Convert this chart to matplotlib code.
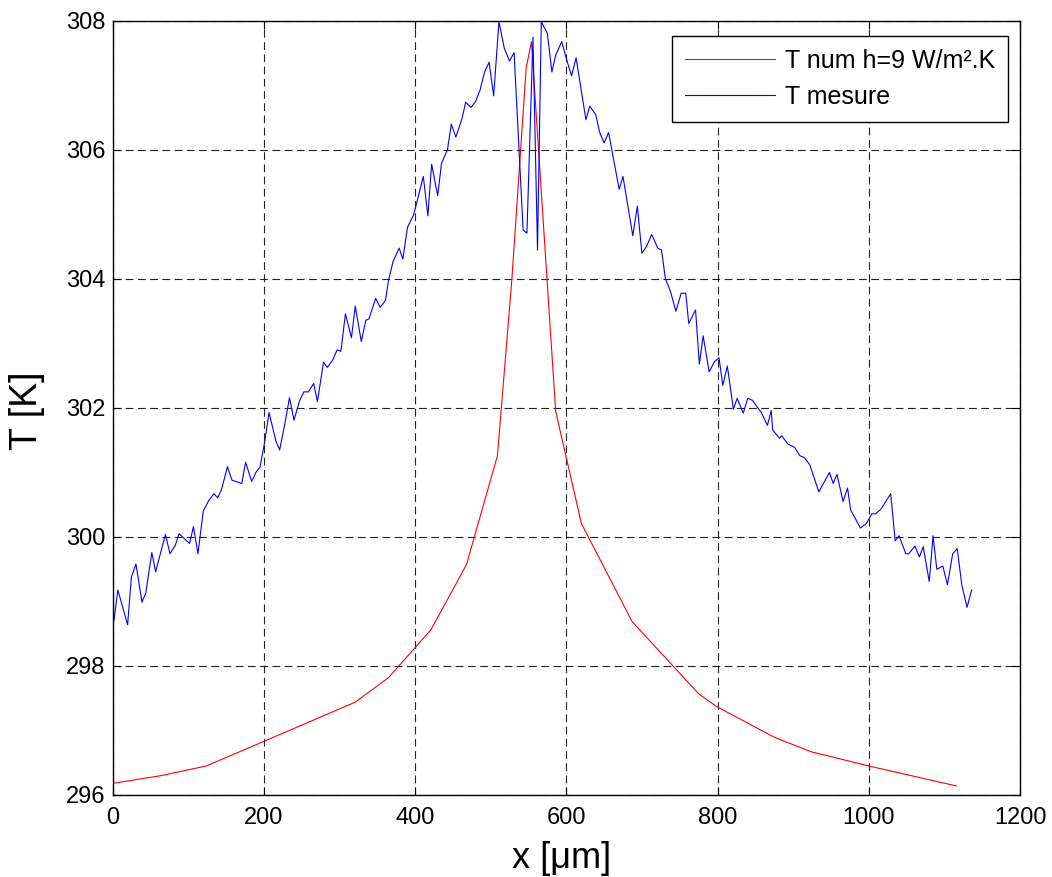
import matplotlib
matplotlib.use("Agg")
import matplotlib.pyplot as plt

plt.rcParams['font.family'] = ['Liberation Sans', 'DejaVu Sans']

# Numerical temperature (red)
x_num = [0, 64, 124, 200, 321, 365, 421, 468, 509, 528, 547, 554, 586, 620, 687,
         775, 799, 876, 924, 1000, 1116]
T_num = [296.18, 296.30, 296.45, 296.83, 297.44, 297.82, 298.56, 299.57, 301.26,
         303.98, 307.27, 307.68, 301.95, 300.21, 298.69, 297.57, 297.37, 296.89,
         296.67, 296.45, 296.14]

# Measured temperature (blue)
x_mes = [2, 7, 20, 25, 31, 39, 44, 52, 57, 70, 76, 83, 88, 102, 107, 113, 120, 127,
         134, 139, 144, 152, 158, 171, 176, 184, 190, 195, 201, 207, 216, 221, 228,
         234, 240, 247, 253, 259, 266, 271, 279, 284, 291, 297, 302, 308, 316, 321,
         329, 335, 339, 348, 354, 361,
         365, 371, 379, 384, 390, 398, 402, 411, 417, 422, 430, 435, 443, 448, 454,
         462, 467, 474, 480, 486, 492, 498, 504, 511, 518, 525, 531, 543, 548, 556,
         562, 567, 575, 581, 586, 594, 600, 607, 613, 618, 626, 631, 639,
         644, 650, 656, 670, 675, 688, 694, 700, 706, 713, 721, 726, 731, 738, 745,
         752, 758, 762, 771, 776, 781, 789, 796, 802, 807, 813, 821, 826, 834, 840,
         846, 858, 866, 871, 873,
         882, 885, 893, 902, 909, 915, 922, 934, 948, 953, 958, 966, 972, 976, 989,
         997, 1004, 1009, 1016, 1029, 1035, 1040, 1049, 1053, 1061, 1067, 1072, 1080,
         1085, 1090, 1098, 1104, 1111, 1117, 1123, 1130, 1136]
T_mes = [298.71, 299.18, 298.64, 299.38, 299.58, 298.99, 299.13, 299.76, 299.46,
         300.04, 299.74, 299.87, 300.05, 299.90, 300.16, 299.74, 300.40, 300.56,
         300.67, 300.61, 300.73, 301.09, 300.88, 300.83, 301.16, 300.86, 301.01,
         301.08, 301.46, 301.93, 301.49, 301.35, 301.76, 302.16, 301.81, 302.10,
         302.25, 302.25, 302.38, 302.10, 302.71, 302.63, 302.74, 302.90, 302.88,
         303.46, 303.09, 303.58, 303.03, 303.36, 303.38, 303.70, 303.56, 303.67,
         303.98, 304.27, 304.48, 304.31, 304.80, 304.99, 305.17, 305.59, 304.98,
         305.78, 305.29, 305.79, 306.01, 306.40, 306.20, 306.48, 306.74, 306.66,
         306.75, 306.93, 307.21, 307.36, 306.84, 307.99, 307.58, 307.38, 307.51,
         304.76, 304.71, 307.75, 304.45, 307.99, 307.81, 307.21, 307.47, 307.68,
         307.42, 307.15, 307.43, 307.06, 306.47, 306.68, 306.55,
         306.28, 306.11, 306.27, 305.39, 305.59, 304.67, 305.13, 304.40, 304.50,
         304.69, 304.48, 304.45, 304.01, 303.80, 303.50, 303.78, 303.78, 303.31,
         303.52, 302.68, 303.12, 302.56, 302.72, 302.78, 302.35, 302.65, 301.98,
         302.15, 301.92, 302.15, 302.12, 301.93, 301.73, 301.96, 301.66,
         301.53, 301.57, 301.44, 301.39, 301.26, 301.23, 301.12, 300.70, 301.00,
         300.83, 300.97, 300.55, 300.76, 300.42, 300.14, 300.21, 300.36, 300.36,
         300.43, 300.67, 299.94, 300.02, 299.74, 299.74, 299.86, 299.69, 299.85,
         299.31, 300.02, 299.50, 299.55, 299.26, 299.74, 299.82, 299.26, 298.91,
         299.18]

x_ticks = [0, 200, 400, 600, 800, 1000, 1200]
y_ticks = [296, 298, 300, 302, 304, 306, 308]

fig = plt.figure(figsize=(10.52, 8.77), dpi=100)
ax = fig.add_axes([112.5 / 1052, 1 - 795 / 877, 907.5 / 1052, 774 / 877])

ax.plot(x_num, T_num, color='#ff0000', lw=0.8, label='T num h=9 W/m².K')
ax.plot(x_mes, T_mes, color='#0000ff', lw=0.8, label='T mesure')

ax.set_xlim(0, 1200)
ax.set_ylim(296, 308)
ax.set_xticks(x_ticks)
ax.set_yticks(y_ticks)
ax.grid(True, color='#222222', lw=0.8, linestyle=(0, (7, 4)))
ax.set_axisbelow(True)
for s in ax.spines.values():
    s.set_linewidth(1.0)
    s.set_color('black')
ax.tick_params(axis='both', direction='in', length=6, width=0.8, top=True, right=True,
               labelsize=17)
ax.tick_params(axis='x', pad=9)
ax.tick_params(axis='y', pad=5)

ax.set_xlabel('x [μm]', fontsize=26)
ax.set_ylabel('T [K]', fontsize=27)
ax.xaxis.set_label_coords(0.495, (795 - 858) / 774)
ax.xaxis.label.set_verticalalignment('center')
ax.yaxis.set_label_coords((27 - 112.5) / 907.5, 0.497)
ax.yaxis.label.set_verticalalignment('center')

leg = ax.legend(loc='upper right', bbox_to_anchor=((1008 - 112.5) / 907.5, (795 - 36) / 774),
                borderaxespad=0, fontsize=18, handlelength=3.6, handletextpad=0.4,
                labelspacing=0.46, borderpad=0.52, fancybox=False, framealpha=1,
                edgecolor='black')
leg.get_frame().set_linewidth(1.0)

fig.savefig('out.png', dpi=100)
